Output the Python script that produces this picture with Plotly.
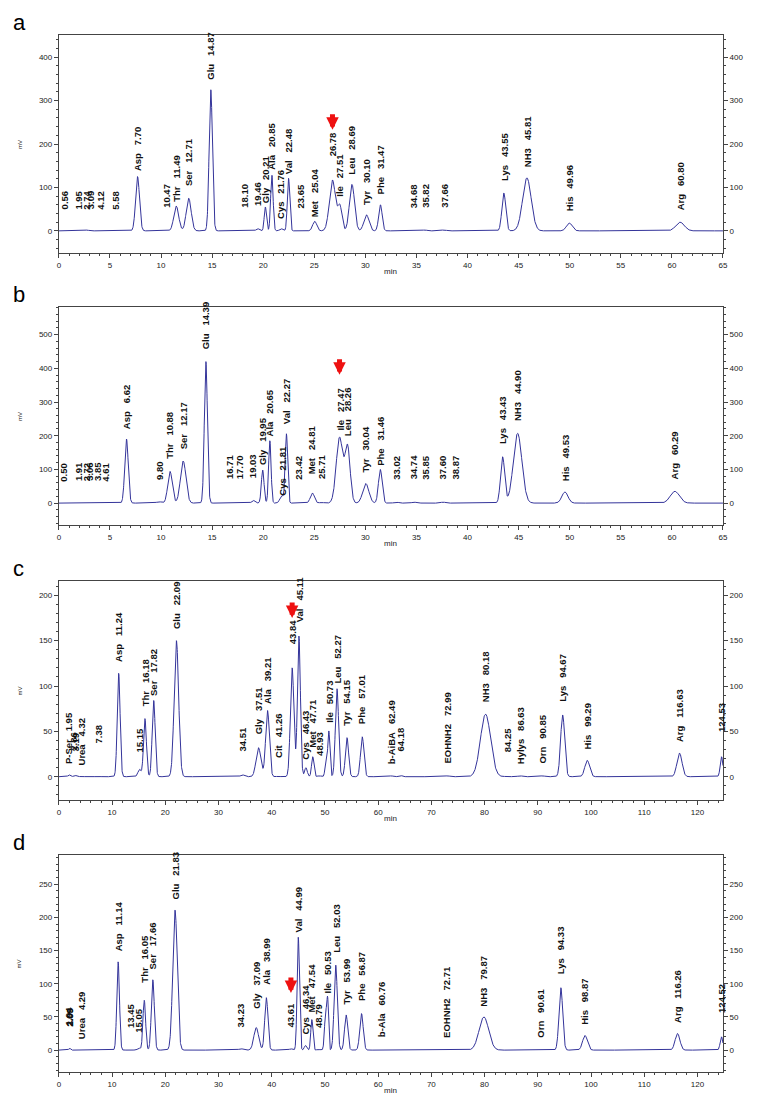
import numpy as np
import plotly.graph_objects as go

W, H = 773, 1097

# ---------------- Panel a ----------------
A_RT = [0.56, 1.95, 2.74, 3.09, 4.12, 5.58, 7.70, 10.47, 11.49, 12.71, 14.87, 18.10, 19.46, 20.21,
        20.85, 21.76, 22.48, 23.65, 25.04, 26.78, 27.51, 28.69, 30.10, 31.47, 34.68, 35.82, 37.66,
        43.55, 45.81, 49.96, 60.80]
A_NAME = ["", "", "", "", "", "", "Asp", "", "Thr", "Ser", "Glu", "", "", "Gly",
          "Ala", "Cys", "Val", "", "Met", "", "Ile", "Leu", "Tyr", "Phe", "", "", "",
          "Lys", "NH3", "His", "Arg"]
A_HEIGHT = [0.5, 1, 2, 1, 0.5, 0.5, 125, 1, 57, 75, 325, 0.5, 5, 55,
            128, 5, 121, 0.5, 22, 117, 55, 107, 37, 60, 1, 2, 2,
            87, 122, 18, 20]
A_WIDTH = [0.1, 0.15, 0.12, 0.12, 0.15, 0.2, 0.19, 0.2, 0.24, 0.24, 0.16, 0.2, 0.15, 0.11,
           0.12, 0.15, 0.12, 0.2, 0.2, 0.3, 0.2, 0.25, 0.25, 0.17, 0.2, 0.2, 0.25,
           0.19, 0.42, 0.28, 0.42]
A_LABEL_Y = [45, 45, 45, 45, 45, 45, 132, 48, 63, 98, 343, 48, 52, 60,
             137, 22, 126, 48, 27, 168, 75, 126, 56, 79, 48, 48, 48,
             110, 143, 41, 43]
A_ARROW = (26.78, 233)

# ---------------- Panel b ----------------
B_RT = [0.50, 1.91, 2.72, 3.06, 3.85, 4.61, 6.62, 9.80, 10.88, 12.17, 14.39, 16.71, 17.70, 19.03,
        19.95, 20.65, 21.81, 22.27, 23.42, 24.81, 25.71, 27.47, 28.26, 30.04, 31.46, 33.02, 34.74,
        35.85, 37.60, 38.87, 43.43, 44.90, 49.53, 60.29]
B_NAME = ["", "", "", "", "", "", "Asp", "", "Thr", "Ser", "Glu", "", "", "",
          "Gly", "Ala", "Cys", "Val", "", "Met", "", "Ile", "Leu", "Tyr", "Phe", "", "",
          "", "", "", "Lys", "NH3", "His", "Arg"]
B_HEIGHT = [0.5, 0.5, 1, 1, 1, 1, 190, 4, 94, 125, 420, 0.5, 0.5, 8,
            98, 185, 22, 205, 0.5, 30, 2, 195, 165, 58, 100, 3, 3,
            1, 3, 0.5, 137, 207, 33, 35]
B_WIDTH = [0.1, 0.15, 0.12, 0.12, 0.15, 0.15, 0.17, 0.25, 0.22, 0.27, 0.15, 0.2, 0.2, 0.15,
           0.13, 0.12, 0.18, 0.12, 0.2, 0.2, 0.2, 0.32, 0.25, 0.3, 0.18, 0.2, 0.2,
           0.2, 0.2, 0.2, 0.2, 0.42, 0.3, 0.45]
B_LABEL_Y = [59, 59, 59, 59, 59, 59, 215, 64, 124, 153, 450, 64, 64, 69,
             106, 193, 15, 228, 64, 79, 64, 208, 193, 84, 104, 64, 64,
             64, 64, 64, 168, 238, 59, 64]
B_ARROW = (27.47, 381)

# ---------------- Panel c ----------------
C_RT = [1.95, 2.86, 3.19, 4.32, 7.38, 11.24, 15.15, 16.18, 17.82, 22.09, 34.51, 37.51, 39.21,
        41.26, 43.84, 45.11, 46.43, 47.71, 48.93, 50.20, 50.73, 52.27, 54.15, 57.01, 62.49, 64.18,
        72.99, 80.18, 84.25, 86.63, 90.85, 94.67, 99.29, 116.63, 124.53]
C_NAME = ["P-Ser", "", "", "Urea", "", "Asp", "", "Thr", "Ser", "Glu", "", "Gly", "Ala",
          "Cit", "", "Val", "Cys", "Met", "", None, "Ile", "Leu", "Tyr", "Phe", "b-AiBA", "",
          "EOHNH2", "NH3", "", "Hylys", "Orn", "Lys", "His", "Arg", ""]
C_HEIGHT = [2, 1, 1, 0.5, 0.5, 114, 8, 64, 84, 150, 2, 32, 73,
            0.5, 120, 155, 10, 22, 1, 15, 50, 97, 43, 44, 1, 1.5,
            1, 69, 0.5, 1, 1, 68, 18, 26, 22]
C_WIDTH = [0.2, 0.2, 0.2, 0.3, 0.3, 0.27, 0.3, 0.27, 0.28, 0.42, 0.35, 0.45, 0.35,
           0.3, 0.33, 0.28, 0.25, 0.22, 0.3, 0.2, 0.2, 0.3, 0.3, 0.32, 0.3, 0.3,
           0.4, 0.95, 0.4, 0.4, 0.4, 0.38, 0.45, 0.48, 0.25]
C_LABEL_Y = [12, 26, 26, 10, 34, 124, 25, 76, 87, 161, 25, 45, 78,
             19, 144, 168, 17, 30, 21, None, 57, 100, 54, 56, 12, 26,
             12, 80, 25, 12, 12, 80, 28, 36, 47]
C_ARROW = (43.84, 175)

# ---------------- Panel d ----------------
D_RT = [1.94, 2.03, 2.09, 4.29, 11.14, 13.45, 15.05, 16.05, 17.66, 21.83, 34.23, 37.09, 38.99,
        43.61, 44.99, 46.34, 47.54, 48.79, 50.15, 50.53, 52.03, 53.99, 56.87, 60.76, 72.71,
        79.87, 90.61, 94.33, 98.87, 116.26, 124.52]
D_NAME = ["", "", "", "Urea", "Asp", "", "", "Thr", "Ser", "Glu", "", "Gly", "Ala",
          "", "Val", "Cys", "Met", "", None, "Ile", "Leu", "Tyr", "Phe", "b-Ala", "EOHNH2",
          "NH3", "Orn", "Lys", "His", "Arg", ""]
D_HEIGHT = [1, 1, 1, 0.5, 133, 1, 3, 75, 106, 211, 2, 34, 79,
            2, 170, 7, 46, 1, 58, 66, 128, 53, 55, 1, 0.5,
            50, 1, 94, 22, 25, 20]
D_WIDTH = [0.15, 0.15, 0.15, 0.3, 0.25, 0.3, 0.25, 0.25, 0.28, 0.42, 0.4, 0.45, 0.3,
           0.3, 0.22, 0.22, 0.2, 0.3, 0.22, 0.15, 0.3, 0.3, 0.32, 0.3, 0.4,
           0.9, 0.4, 0.35, 0.45, 0.45, 0.25]
D_LABEL_Y = [33, 33, 33, 13, 146, 31, 23, 99, 119, 224, 31, 59, 96,
             31, 174, 21, 54, 31, None, 82, 144, 66, 71, 16, 15,
             63, 15, 111, 35, 38, 53]
D_ARROW = (43.61, 86)

PANELS = [
    dict(letter="a", rt=A_RT, name=A_NAME, h=A_HEIGHT, w=A_WIDTH, ly=A_LABEL_Y, arrow=A_ARROW,
         xr=[0, 65], yr=[-51, 451], xd=5, xm=1, yd=100, ym=20, top=27, bot=245),
    dict(letter="b", rt=B_RT, name=B_NAME, h=B_HEIGHT, w=B_WIDTH, ly=B_LABEL_Y, arrow=B_ARROW,
         xr=[0, 65], yr=[-65, 582], xd=5, xm=1, yd=100, ym=20, top=299, bot=517),
    dict(letter="c", rt=C_RT, name=C_NAME, h=C_HEIGHT, w=C_WIDTH, ly=C_LABEL_Y, arrow=C_ARROW,
         xr=[0, 124.8], yr=[-25.7, 215.8], xd=10, xm=2, yd=50, ym=10, top=573, bot=792),
    dict(letter="d", rt=D_RT, name=D_NAME, h=D_HEIGHT, w=D_WIDTH, ly=D_LABEL_Y, arrow=D_ARROW,
         xr=[0, 124.8], yr=[-33, 294], xd=10, xm=2, yd=50, ym=10, top=847, bot=1064),
]

LINE = "#34349a"
AXC = "#444444"
FONT = "Arial, Liberation Sans, sans-serif"
X0, X1 = 49.3 / W, 719.5 / W

fig = go.Figure()
annotations = []
layout = dict(width=W, height=H, autosize=False, margin=dict(l=0, r=0, t=0, b=0),
              paper_bgcolor="white", plot_bgcolor="white", showlegend=False,
              font=dict(family=FONT, size=8, color="#222"))

for i, p in enumerate(PANELS):
    k = i + 1
    xa = "x" if k == 1 else f"x{k}"
    ya = "y" if k == 1 else f"y{k}"
    yr_name = f"y{k + 4}"
    dom_y = [1 - p["bot"] / H, 1 - p["top"] / H]

    xs = np.linspace(p["xr"][0], p["xr"][1], 5000)
    ys = np.zeros_like(xs)
    for r, hh, ww in zip(p["rt"], p["h"], p["w"]):
        ys += hh * np.exp(-0.5 * ((xs - r) / ww) ** 2)
    fig.add_trace(go.Scatter(x=xs, y=ys, mode="lines", line=dict(color=LINE, width=1),
                             xaxis=xa, yaxis=ya, hoverinfo="skip"))
    fig.add_trace(go.Scatter(x=[None], y=[None], mode="lines", xaxis=xa, yaxis=yr_name,
                             hoverinfo="skip"))

    axkey = "xaxis" if k == 1 else f"xaxis{k}"
    layout[axkey] = dict(domain=[X0, X1], range=p["xr"], anchor=ya, showgrid=False, zeroline=False,
                         showline=True, mirror=True, linecolor=AXC, linewidth=1,
                         ticks="outside", ticklen=4, tickcolor=AXC, dtick=p["xd"], tick0=0,
                         tickfont=dict(size=8, color="#222"),
                         minor=dict(ticks="outside", ticklen=2, dtick=p["xm"], tickcolor=AXC))
    aykey = "yaxis" if k == 1 else f"yaxis{k}"
    layout[aykey] = dict(domain=dom_y, range=p["yr"], anchor=xa, showgrid=False, zeroline=False,
                         showline=True, linecolor=AXC, linewidth=1,
                         ticks="outside", ticklen=4, tickcolor=AXC, dtick=p["yd"], tick0=0,
                         tickfont=dict(size=8, color="#222"),
                         minor=dict(ticks="outside", ticklen=2, dtick=p["ym"], tickcolor=AXC))
    layout[f"yaxis{k + 4}"] = dict(range=p["yr"], overlaying=ya, side="right", anchor=xa,
                                   showgrid=False, zeroline=False, showline=True, linecolor=AXC,
                                   linewidth=1, ticks="outside", ticklen=4, tickcolor=AXC,
                                   dtick=p["yd"], tick0=0, tickfont=dict(size=8, color="#222"),
                                   minor=dict(ticks="outside", ticklen=2, dtick=p["ym"],
                                              tickcolor=AXC))

    # peak labels
    for r, nm, ly in zip(p["rt"], p["name"], p["ly"]):
        if ly is None or nm is None:
            continue
        txt = f"{r:.2f}" if nm == "" else f"{nm}\u00a0\u00a0\u00a0{r:.2f}"
        annotations.append(dict(x=r, y=ly, xref=xa, yref=ya, text=f"<b>{txt}</b>",
                                textangle=-90, xanchor="center", yanchor="bottom",
                                showarrow=False, font=dict(size=9.5, color="#111", family=FONT)))
    # red arrow
    ax_x, ax_y = p["arrow"]
    annotations.append(dict(x=ax_x, y=ax_y, xref=xa, yref=ya, text="", showarrow=True,
                            ax=0, ay=-17, arrowhead=2, arrowsize=0.5, arrowwidth=5,
                            arrowcolor="#ee1111"))
    # panel letter
    annotations.append(dict(x=1 / W, y=1 - max(p["top"] - 27, 0) / H, xref="paper", yref="paper",
                            text=p["letter"], showarrow=False, xanchor="left", yanchor="top",
                            font=dict(size=22, color="#000", family=FONT)))
    # axis titles
    annotations.append(dict(x=(X0 + X1) / 2, y=1 - p["bot"] / H, xref="paper", yref="paper",
                            text="min", showarrow=False, yshift=-18, xanchor="center",
                            yanchor="middle", font=dict(size=8, color="#222", family=FONT)))
    ymid = 1 - (p["top"] + p["bot"]) / 2 / H
    annotations.append(dict(x=10 / W, y=ymid, xref="paper", yref="paper", text="mV",
                            textangle=-90, showarrow=False, xanchor="center", yanchor="middle",
                            font=dict(size=6, color="#222", family=FONT)))
    annotations.append(dict(x=765 / W, y=ymid, xref="paper", yref="paper", text="mV",
                            textangle=-90, showarrow=False, xanchor="center", yanchor="middle",
                            font=dict(size=6, color="#222", family=FONT)))

layout["annotations"] = annotations
fig.update_layout(**layout)
fig.write_html("out.html")
